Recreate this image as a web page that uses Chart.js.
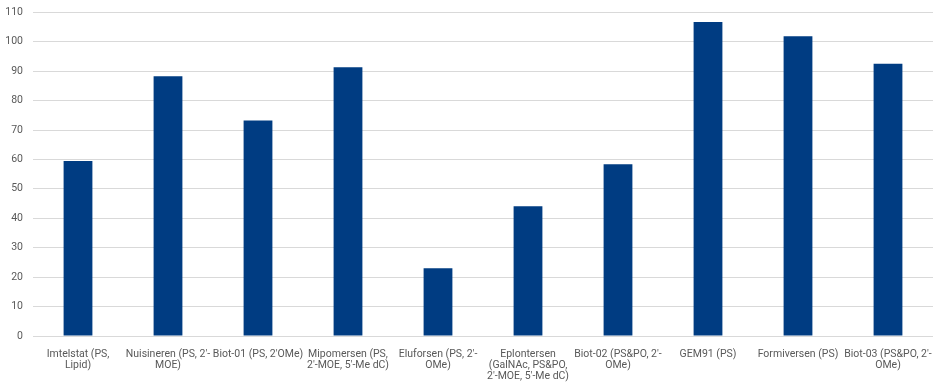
<!DOCTYPE html>
<html><head><meta charset="utf-8">
<script src="https://cdn.jsdelivr.net/npm/chart.js@4/dist/chart.umd.min.js"></script>
<style>html,body{margin:0;padding:0;background:#fff;overflow:hidden}#o{width:945px;height:387px;overflow:hidden;position:relative}#w{position:absolute;left:0;top:-4px;width:945px;height:391px}</style>
</head><body><div id="o"><div id="w"><canvas id="c"></canvas></div></div>
<script>
const categories = [
  ["Imtelstat (PS,", "Lipid)"],
  ["Nuisineren (PS, 2'-", "MOE)"],
  ["Biot-01 (PS, 2'OMe)"],
  ["Mipomersen (PS,", "2'-MOE, 5'-Me dC)"],
  ["Eluforsen (PS, 2'-", "OMe)"],
  ["Eplontersen", "(GalNAc, PS&PO,", "2'-MOE, 5'-Me dC)"],
  ["Biot-02 (PS&PO, 2'-", "OMe)"],
  ["GEM91 (PS)"],
  ["Formiversen (PS)"],
  ["Biot-03 (PS&PO, 2'-", "OMe)"]
];
const values = [59.5, 88.3, 73.2, 91.3, 23.0, 44.1, 58.4, 106.7, 101.9, 92.5];
const yTicks = [0,10,20,30,40,50,60,70,80,90,100,110];

new Chart(document.getElementById('c'), {
  type: 'bar',
  data: { labels: categories, datasets: [{ data: values, backgroundColor: '#003c82', categoryPercentage: 1, barPercentage: 0.32 }] },
  options: {
    responsive: true, maintainAspectRatio: false, animation: false,
    layout: { padding: { top: 0, right: 12, left: 0, bottom: 0 } },
    plugins: { legend: { display: false }, tooltip: { enabled: false } },
    scales: {
      x: {
        grid: { display: false },
        border: { display: false },
        ticks: { color: '#595959', font: { family: 'Roboto', size: 10.5, lineHeight: 1.06 }, maxRotation: 0, autoSkip: false, padding: 5 },
        afterFit: s => { s.height = 51; }
      },
      y: {
        min: 0, max: 110,
        afterBuildTicks: s => { s.ticks = yTicks.map(v => ({ value: v })); },
        grid: { color: '#d9d9d9', drawTicks: false, lineWidth: 1 },
        border: { display: false },
        ticks: { color: '#595959', font: { family: 'Roboto', size: 10.5 }, padding: 10 },
        afterFit: s => { s.width = 33; }
      }
    }
  }
});
</script></body></html>
